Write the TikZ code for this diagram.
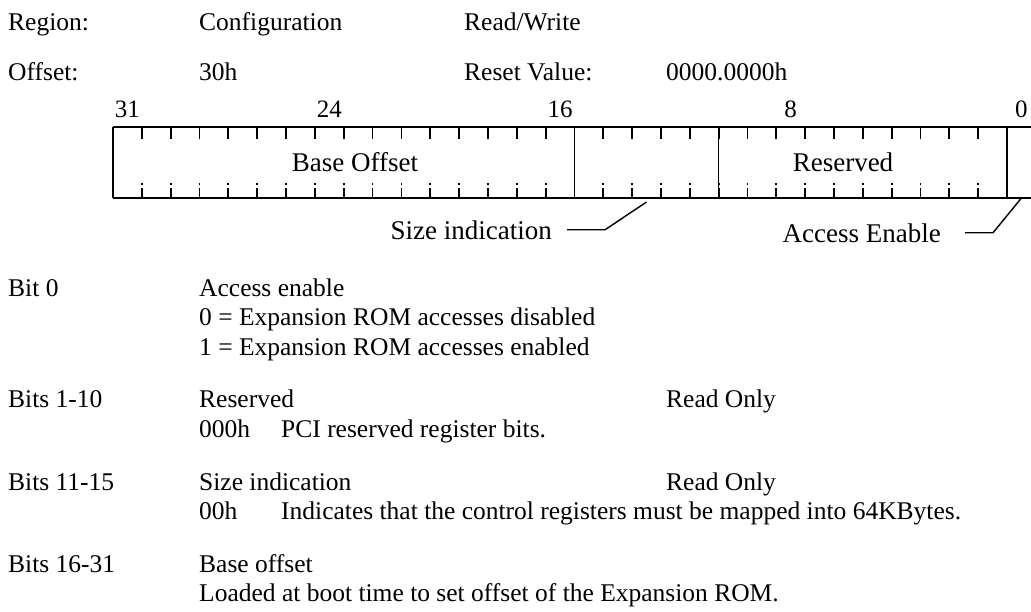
\documentclass[tikz,border=0pt]{standalone}
\usepackage{fontspec}
\setmainfont{Liberation Serif}
\usetikzlibrary{positioning}

\tikzstyle{plain} = [inner sep=0pt, anchor=base west, font=\fontsize{25.5}{30}\selectfont]
\tikzstyle{bitno} = [inner sep=0pt, anchor=base, font=\fontsize{25}{30}\selectfont]
\tikzstyle{field} = [inner sep=0pt, font=\fontsize{27}{32}\selectfont]
\tikzstyle{frame} = [line width=2.6pt]
\tikzstyle{divider} = [line width=1.4pt]
\tikzstyle{tick} = [line width=1.8pt]
\tikzstyle{leader} = [line width=1.4pt]

\begin{document}
\begin{tikzpicture}[x=1pt, y=-1pt]
\useasboundingbox (0,0) rectangle (1031,611);
\clip (0,0) rectangle (1031,611);

%% header
\node (region) [plain] at (8,30) {Region:};
\node (conf) [plain] at (199,30) {Configuration};
\node (rw) [plain] at (464,30) {Read/Write};
\node (offset) [plain] at (8,80) {Offset:};
\node (offval) [plain] at (199,80) {30h};
\node (reset) [plain] at (464,80) {Reset Value:};
\node (resetval) [plain] at (666,80) {0000.0000h};

%% register
\foreach \b in {31,24,16,8,0}
  \node (n\b) [bitno] at ({113+(31.5-\b)*28.84},117) {\b};
\draw [frame] (113,127) -- (1040,127);
\draw [frame] (113,198) -- (1040,198);
\foreach \i in {1,...,31} {
  \draw [tick] ({113+\i*28.84},127) -- ++(0,12);
  \draw [tick] ({113+\i*28.84},198) -- ++(0,-10);
  \draw [tick] ({113+\i*28.84},185) -- ++(0,-2);
}
\foreach \i in {0,16,21,31}
  \draw [divider] ({113+\i*28.84},127) -- ({113+\i*28.84},198);

\node (base) [field] at (355,162) {Base Offset};
\node (rsvd) [field] at (843,162) {Reserved};

\node (size) [field, anchor=base east] at (552,239) {Size indication};
\node (acc) [field, anchor=base east] at (941,242) {Access Enable};
\coordinate (bit13) at ({113+18.5*28.84},202);
\coordinate (bit0) at ({113+31.5*28.84},198);

%% leaders
\draw [leader] ([xshift=15pt]size.east) -- ++(38,0) -- (bit13);
\draw [leader] ([xshift=24pt]acc.east) -- ++(28,0) -- (bit0);

%% bit descriptions
\node (b0) [plain] at (8,296) {Bit 0};
\node (b0a) [plain] at (199,296) {Access enable};
\node (b0b) [plain] at (199,325.5) {0 = Expansion ROM accesses disabled};
\node (b0c) [plain] at (199,355) {1 = Expansion ROM accesses enabled};

\node (b1) [plain] at (8,407.75) {Bits 1-10};
\node (b1a) [plain] at (199,407.75) {Reserved};
\node (b1ro) [plain] at (666,407.75) {Read Only};
\node (b1v) [plain] at (199,437.25) {000h};
\node (b1b) [plain] at (281,437.25) {PCI reserved register bits.};

\node (b11) [plain] at (8,490) {Bits 11-15};
\node (b11a) [plain] at (199,490) {Size indication};
\node (b11ro) [plain] at (666,490) {Read Only};
\node (b11v) [plain] at (199,519.5) {00h};
\node (b11b) [plain] at (281,519.5) {Indicates that the control registers must be mapped into 64KBytes.};

\node (b16) [plain] at (8,572.25) {Bits 16-31};
\node (b16a) [plain] at (199,572.25) {Base offset};
\node (b16b) [plain] at (199,601.75) {Loaded at boot time to set offset of the Expansion ROM.};

\end{tikzpicture}
\end{document}
